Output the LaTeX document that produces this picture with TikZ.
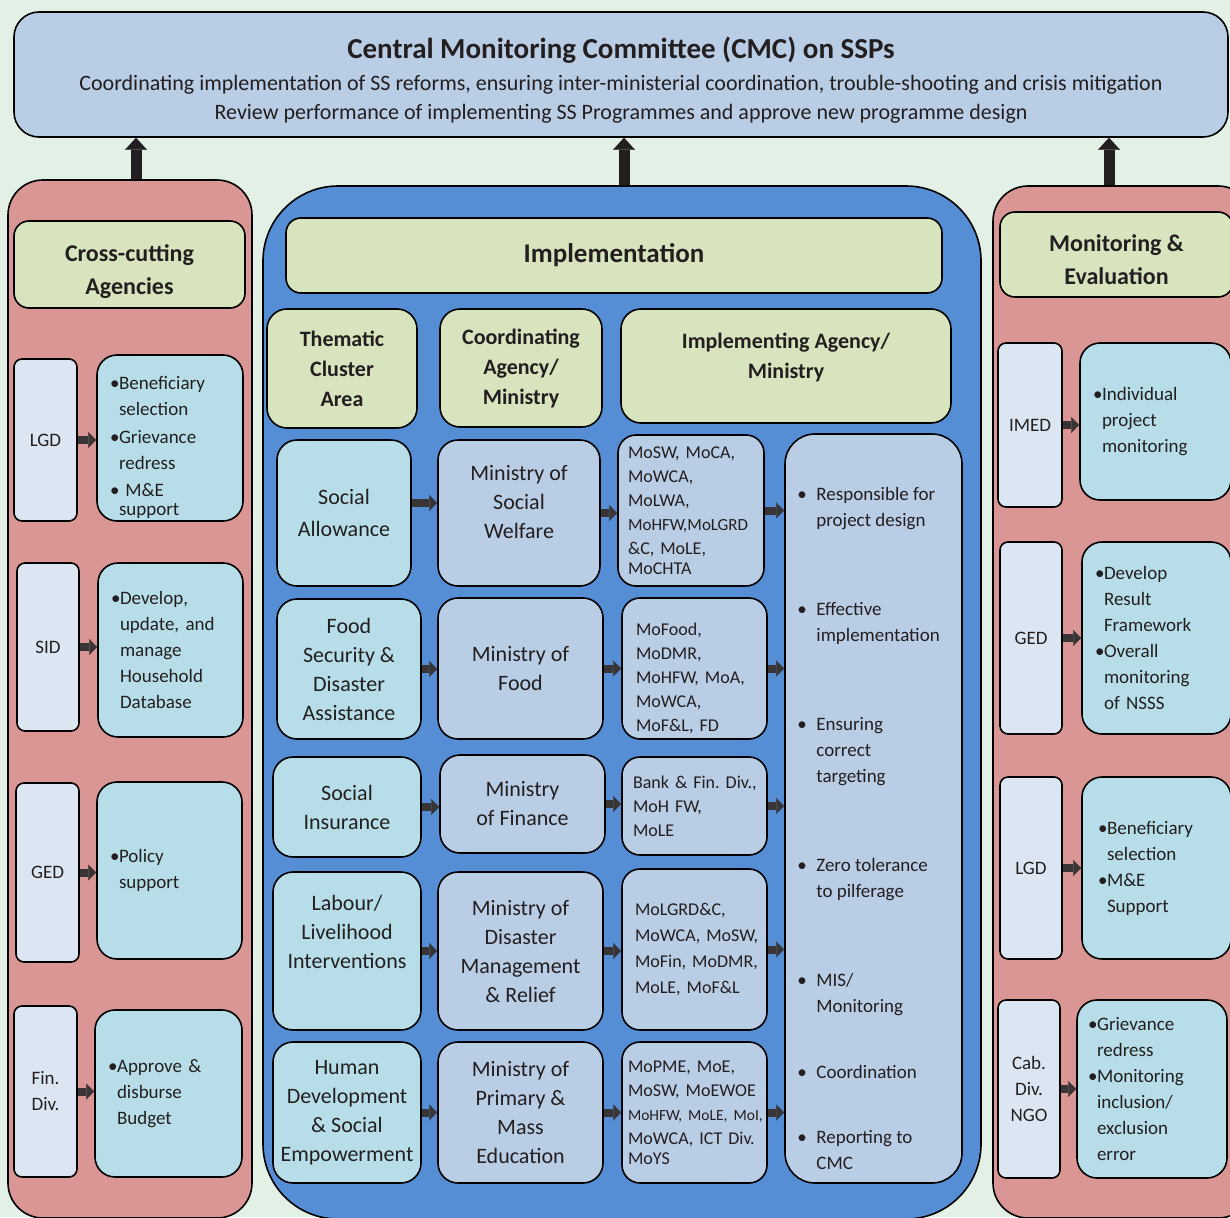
\documentclass[tikz,border=0pt]{standalone}
\usepackage{fontspec}
\setmainfont{Carlito}
\usetikzlibrary{arrows.meta,positioning}
\frenchspacing
\hyphenpenalty=10000

\definecolor{pagebg}{RGB}{226,240,229}
\definecolor{cmcblue}{RGB}{185,205,229}
\definecolor{panelred}{RGB}{217,150,148}
\definecolor{headgreen}{RGB}{215,228,189}
\definecolor{implblue}{RGB}{85,142,213}
\definecolor{tealbox}{RGB}{183,222,232}
\definecolor{lilac}{RGB}{220,230,242}
\definecolor{ink}{RGB}{35,31,32}

\newcommand{\bul}{\makebox[9pt][l]{\textbullet}}
\newcommand{\ind}{\hspace*{9pt}}
\newcommand{\rbul}{\makebox[19pt][l]{\textbullet}}
\newcommand{\rind}{\hspace*{19pt}}

\tikzset{
  >=latex,
  box/.style={rectangle, draw=black, line width=1.6pt, rounded corners=#1, inner sep=0pt, text=ink},
  box/.default=20pt,
  cmcbox/.style={box=25pt, fill=cmcblue, align=center, font=\fontsize{22}{29}\selectfont},
  panel/.style={box=35pt, fill=panelred},
  implpanel/.style={box=75pt, fill=implblue},
  headbox/.style={box=15pt, fill=headgreen, align=center, font=\bfseries\fontsize{24}{33}\selectfont},
  colhead/.style={box=20pt, fill=headgreen, align=center, font=\bfseries\fontsize{22}{30}\selectfont},
  unit/.style={box=8pt, fill=lilac, align=center, font=\fontsize{19}{26}\selectfont},
  task/.style={box=20pt, fill=tealbox, align=left, inner xsep=13pt, font=\fontsize{19}{26}\selectfont},
  cluster/.style={box=20pt, fill=tealbox, align=center, font=\fontsize{22}{29}\selectfont},
  ministry/.style={box=20pt, fill=cmcblue, align=center, font=\fontsize{22}{29}\selectfont},
  members/.style={box=18pt, fill=cmcblue, align=left, inner xsep=10pt, font=\fontsize{18}{24}\selectfont},
  duties/.style={box=30pt, fill=cmcblue},
  dutylist/.style={align=left, inner sep=0pt, text=ink, font=\fontsize{19}{26}\selectfont},
  bigarrow/.style={-{Triangle[width=22pt,length=12pt,line width=0.1pt]}, line width=11pt, draw=ink},
  smallarrow/.style={-{Triangle[width=16pt,length=8pt,line width=0.1pt]}, line width=8pt, draw=ink!90}
}

\begin{document}
\begin{tikzpicture}[x=1pt, y=-1pt]
  \useasboundingbox (0,0) rectangle (1230,1217);
  \clip (0,0) rectangle (1230,1217);
  \fill[pagebg] (0,0) rectangle (1230,1217);

  % committee on top
  \node[cmcbox, minimum width=1214pt, minimum height=125pt] (cmc) at (621,74.5)
    {{\bfseries\fontsize{29}{33}\selectfont\rule{0pt}{32pt}Central Monitoring Committee (CMC) on SSPs}\\[3pt]
     Coordinating implementation of SS reforms, ensuring inter-ministerial coordination, trouble-shooting and crisis mitigation\\
     Review performance of implementing SS Programmes and approve new programme design};

  % the three panels
  \node[panel, minimum width=244pt, minimum height=1038pt] (lpanel) at (130,699) {};
  \node[implpanel, minimum width=718pt, minimum height=1033pt] (ipanel) at (622,702.5) {};
  \node[panel, minimum width=260pt, minimum height=1032pt] (rpanel) at (1123,702) {};

  \draw[bigarrow] ([xshift=6pt]lpanel.north) -- ([xshift=6pt]lpanel.north |- cmc.south);
  \draw[bigarrow] ([xshift=2pt]ipanel.north) -- ([xshift=2pt]ipanel.north |- cmc.south);
  \draw[bigarrow] ([xshift=-14pt]rpanel.north) -- ([xshift=-14pt]rpanel.north |- cmc.south);

  % cross-cutting agencies
  \node[headbox, minimum width=231pt, minimum height=87pt] (cross) at (129.5,264.5) {\mbox{}\\[-2pt]Cross-cutting\\Agencies};
  \node[unit, minimum width=63pt, minimum height=162pt] (lgdunit) at (45.5,440) {LGD};
  \node[task, text width=120pt, minimum height=166pt] (lgdtask) at (170,438)
    {\rule{0pt}{33pt}\bul Beneficiary\\\ind selection\\[2pt]\bul Grievance\\\ind redress\\[1pt]\bul\ M\&E\\[-7pt]\ind support};
  \node[unit, minimum width=62pt, minimum height=168pt] (sidunit) at (48,647) {SID};
  \node[task, text width=119pt, minimum height=174pt] (sidtask) at (170.5,650)
    {\bul Develop,\\\ind update, and\\\ind manage\\\ind Household\\\ind Database};
  \node[unit, minimum width=63pt, minimum height=179pt] (gedunit) at (47.5,872.5) {GED};
  \node[task, text width=119pt, minimum height=177pt] (gedtask) at (169.5,870.5)
    {\bul Policy\\\ind support};
  \node[unit, minimum width=63pt, minimum height=171pt, align=left] (finunit) at (45.5,1091.5) {Fin.\\Div.};
  \node[task, text width=121pt, minimum height=167pt] (fintask) at (168.5,1093.5)
    {\bul Approve \&\\\ind disburse\\\ind Budget};

  \draw[smallarrow] (lgdunit.east) -- (lgdunit.east -| lgdtask.west);
  \draw[smallarrow] (sidunit.east) -- (sidunit.east -| sidtask.west);
  \draw[smallarrow] (gedunit.east) -- (gedunit.east -| gedtask.west);
  \draw[smallarrow] (finunit.east) -- (finunit.east -| fintask.west);

  % implementation
  \node[headbox, font=\bfseries\fontsize{27}{33}\selectfont, minimum width=656pt, minimum height=75pt] (impl) at (614,255.5) {Implementation};
  \node[colhead, minimum width=150pt, minimum height=119pt] (thm) at (342,368.5) {Thematic\\Cluster\\Area};
  \node[colhead, minimum width=162pt, minimum height=118pt] (coord) at (521,368) {Coordinating\\Agency/\\Ministry};
  \node[colhead, minimum width=330pt, minimum height=114pt] (iam) at (786,366) {Implementing Agency/\\Ministry\\[-10pt]\mbox{}};

  \node[cluster, minimum width=134pt, minimum height=146pt] (sa) at (344,513) {Social\\[3pt]Allowance};
  \node[ministry, minimum width=162pt, minimum height=146pt] (msw) at (519,513) {Ministry of\\Social\\Welfare\\[-7pt]\mbox{}};
  \node[members, text width=126pt, minimum height=151pt] (ag1) at (691,510.5)
    {MoSW,~MoCA,\\MoWCA,\\MoLWA,\\{\fontsize{17}{24}\selectfont MoHFW,MoLGRD}\\\&C,~MoLE,\\[-4pt]MoCHTA};

  \node[cluster, minimum width=144pt, minimum height=140pt] (fsd) at (349,669) {Food\\Security \&\\Disaster\\Assistance};
  \node[ministry, minimum width=165pt, minimum height=141pt] (mof) at (520.5,668.5) {Ministry of\\Food};
  \node[members, inner xsep=14pt, text width=117pt, minimum height=141pt] (ag2) at (694.5,668.5)
    {\rule{0pt}{33pt}MoFood,\\MoDMR,\\MoHFW,~MoA,\\MoWCA,\\MoF\&L,~FD};

  \node[cluster, minimum width=148pt, minimum height=100pt] (si) at (347,807) {Social\\Insurance};
  \node[ministry, minimum width=165pt, minimum height=98pt] (mfin) at (522.5,804) {Ministry\\of Finance};
  \node[members, inner xsep=11pt, text width=123pt, minimum height=98pt] (ag3) at (694.5,806)
    {Bank~\&~Fin.~Div.,\\MoH~FW,\\MoLE};

  \node[cluster, minimum width=148pt, minimum height=158pt] (lab) at (347,951) {Labour/\\Livelihood\\Interventions\\[9pt]\mbox{}};
  \node[ministry, minimum width=165pt, minimum height=158pt] (mdm) at (520.5,951) {Ministry of\\Disaster\\Management\\\& Relief};
  \node[members, inner xsep=13pt, text width=119pt, minimum height=161pt] (ag4) at (694.5,949.5)
    {MoLGRD\&C,\\[2pt]MoWCA,~MoSW,\\[2pt]MoFin,~MoDMR,\\[2pt]MoLE,~MoF\&L};

  \node[cluster, minimum width=148pt, minimum height=141pt] (hd) at (347,1112.5) {Human\\Development\\\& Social\\Empowerment};
  \node[ministry, minimum width=165pt, minimum height=141pt] (mpm) at (520.5,1112.5) {Ministry of\\Primary \&\\Mass\\Education};
  \node[members, inner xsep=6pt, text width=133pt, minimum height=141pt] (ag5) at (694.5,1112.5)
    {MoPME,~MoE,\\MoSW,~MoEWOE\\{\fontsize{15.5}{24}\selectfont MoHFW,~MoLE,~MoI,}\\MoWCA,~ICT~Div.\\[-4pt]MoYS};

  \node[duties, minimum width=177pt, minimum height=749pt] (resp) at (873.5,808.5) {};
  \node[dutylist, anchor=north west] (resptext) at ([xshift=13pt,yshift=-54pt]resp.north west)
    {\rbul Responsible for\\\rind project design\\[63pt]
     \rbul Effective\\\rind implementation\\[63pt]
     \rbul Ensuring\\\rind correct\\\rind targeting\\[63pt]
     \rbul Zero tolerance\\\rind to pilferage\\[63pt]
     \rbul MIS/\\\rind Monitoring\\[40pt]
     \rbul Coordination\\[39pt]
     \rbul Reporting to\\\rind CMC};

  \draw[smallarrow] ([yshift=10pt]sa.east) -- ([yshift=10pt]sa.east -| msw.west);
  \draw[smallarrow] (msw.east) -- (msw.east -| ag1.west);
  \draw[smallarrow] (ag1.east) -- (ag1.east -| resp.west);
  \draw[smallarrow] (fsd.east) -- (fsd.east -| mof.west);
  \draw[smallarrow] (mof.east) -- (mof.east -| ag2.west);
  \draw[smallarrow] (ag2.east) -- (ag2.east -| resp.west);
  \draw[smallarrow] (si.east) -- (si.east -| mfin.west);
  \draw[smallarrow] (mfin.east) -- (mfin.east -| ag3.west);
  \draw[smallarrow] (ag3.east) -- (ag3.east -| resp.west);
  \draw[smallarrow] (lab.east) -- (lab.east -| mdm.west);
  \draw[smallarrow] (mdm.east) -- (mdm.east -| ag4.west);
  \draw[smallarrow] (ag4.east) -- (ag4.east -| resp.west);
  \draw[smallarrow] (hd.east) -- (hd.east -| mpm.west);
  \draw[smallarrow] (mpm.east) -- (mpm.east -| ag5.west);
  \draw[smallarrow] (ag5.east) -- (ag5.east -| resp.west);

  % monitoring and evaluation
  \node[headbox, minimum width=233pt, minimum height=85pt] (mehead) at (1116.5,254.5) {\mbox{}\\[-6pt]Monitoring \&\\Evaluation};
  \node[unit, minimum width=64pt, minimum height=164pt] (imedunit) at (1030,425) {IMED};
  \node[task, text width=125pt, minimum height=157pt] (imedtask) at (1155.5,421.5)
    {\bul Individual\\\ind project\\\ind monitoring};
  \node[unit, minimum width=62pt, minimum height=192pt] (gedRunit) at (1031,638) {GED};
  \node[task, text width=123pt, minimum height=192pt] (gedRtask) at (1156.5,638)
    {\bul Develop\\\ind Result\\\ind Framework\\\bul Overall\\\ind monitoring\\\ind of NSSS};
  \node[unit, minimum width=62pt, minimum height=182pt] (lgdRunit) at (1031,868) {LGD};
  \node[task, inner xsep=16pt, text width=117pt, minimum height=182pt] (lgdRtask) at (1156.5,868)
    {\bul Beneficiary\\\ind selection\\\bul M\&E\\\ind Support};
  \node[unit, minimum width=62pt, minimum height=178pt] (cabunit) at (1029,1089) {Cab.\\Div.\\NGO};
  \node[task, inner xsep=11pt, text width=128pt, minimum height=178pt] (cabtask) at (1152,1089)
    {\bul Grievance\\\ind redress\\\bul Monitoring\\\ind inclusion/\\\ind exclusion\\\ind error};

  \draw[smallarrow] (imedunit.east) -- (imedunit.east -| imedtask.west);
  \draw[smallarrow] (gedRunit.east) -- (gedRunit.east -| gedRtask.west);
  \draw[smallarrow] (lgdRunit.east) -- (lgdRunit.east -| lgdRtask.west);
  \draw[smallarrow] (cabunit.east) -- (cabunit.east -| cabtask.west);
\end{tikzpicture}
\end{document}
